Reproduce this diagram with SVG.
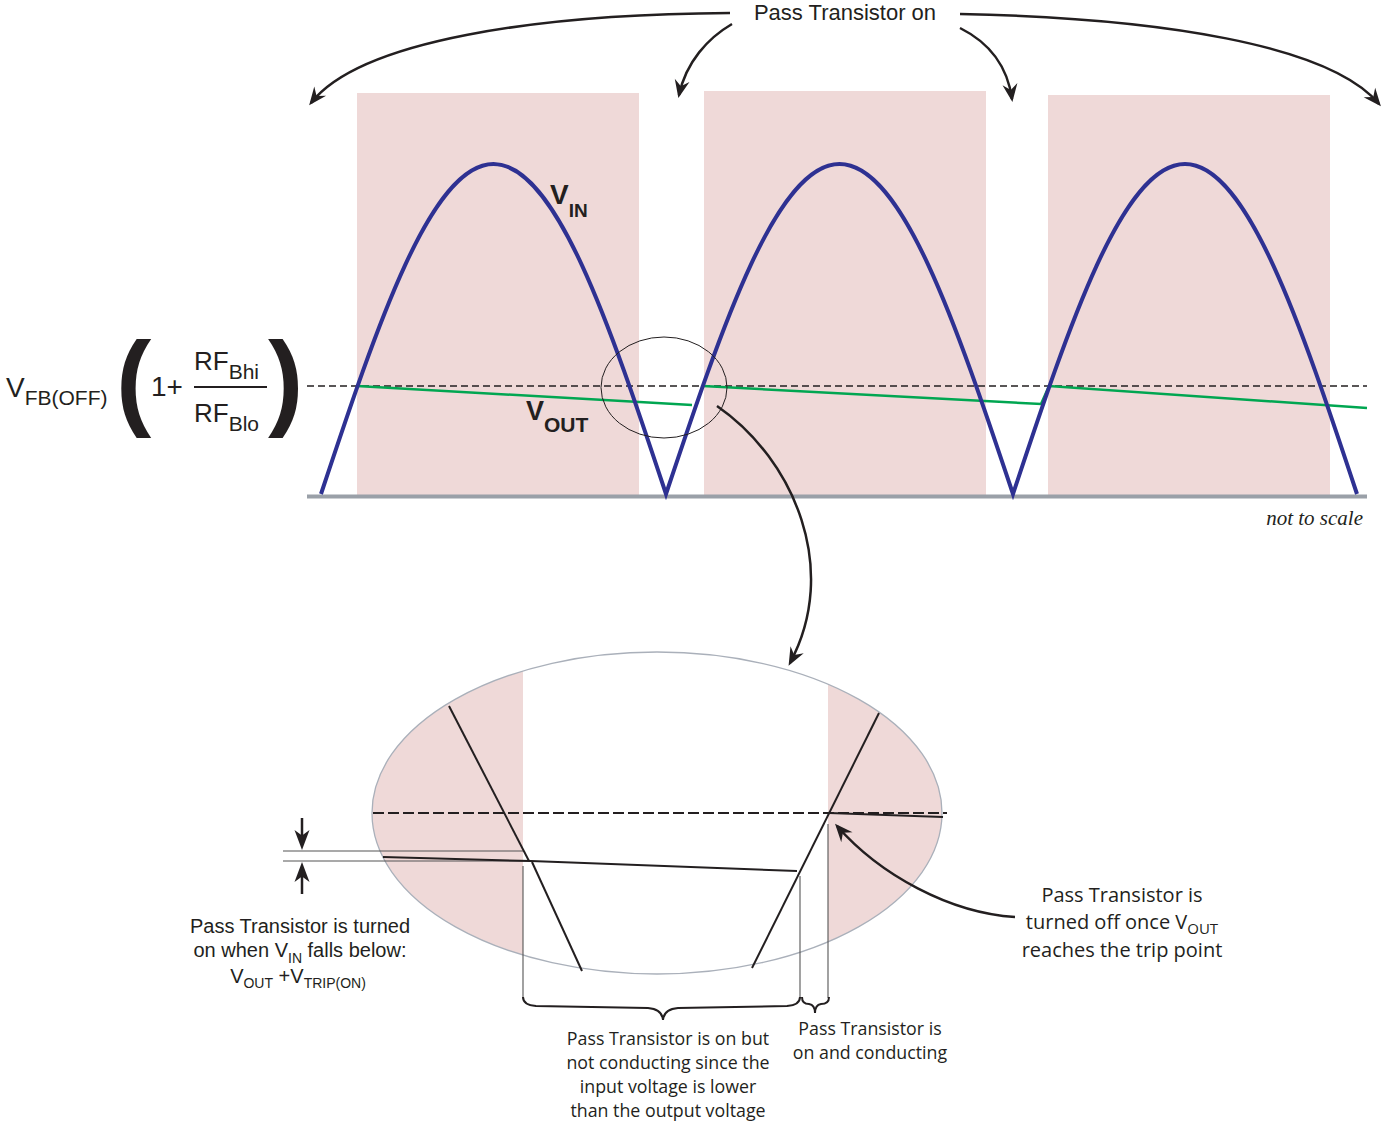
<svg xmlns="http://www.w3.org/2000/svg" width="1383" height="1124" viewBox="0 0 1383 1124">
<style>
.pink{fill:#efd9d8}
.blue{fill:none;stroke:#2e3192;stroke-width:4;stroke-linejoin:miter}
.green{fill:none;stroke:#00a651;stroke-width:2.5}
.dash{fill:none;stroke:#231f20;stroke-width:1.5;stroke-dasharray:7 4}
.arr{fill:none;stroke:#231f20;stroke-width:2.5;marker-end:url(#ah)}
.thin{fill:none;stroke:#555;stroke-width:1.1}
.blk{fill:none;stroke:#231f20;stroke-width:2}
.sans{font-family:"Liberation Sans",Arial,sans-serif;fill:#231f20}
.myr{font-family:"Open Sans","Noto Sans",sans-serif;fill:#231f20}
</style>
<defs>
<marker id="ah" viewBox="-16 -8 20 16" markerWidth="20" markerHeight="16" refX="0" refY="0" orient="auto" markerUnits="userSpaceOnUse">
<path d="M3,0 L-15,-7.5 L-9,0 L-15,7.5 Z" fill="#231f20"/>
</marker>
<clipPath id="ec"><ellipse cx="657" cy="813" rx="285" ry="161"/></clipPath>
</defs>

<g id="chart">
<rect class="pink" x="357" y="93" width="282" height="403"/>
<rect class="pink" x="704" y="91" width="282" height="405"/>
<rect class="pink" x="1048" y="95" width="282" height="401"/>
<line x1="307" y1="496.5" x2="1367" y2="496.5" stroke="#9aa0a8" stroke-width="4"/>
<line class="dash" x1="307" y1="386" x2="1367" y2="386"/>
<path class="green" d="M357,386 L692,405"/>
<path class="green" d="M703,386 L1041,404 L1049,386 L1367,408"/>
<path class="blue" d="M321,494 C377.2,324.9 431,164 493.5,164 C556,164 609.8,324.9 666,494 C722.6,324.9 776.7,164 839.5,164 C902.3,164 956.4,324.9 1013,494 C1069.2,324.9 1122.6,164 1185,164 C1247.4,164 1300.9,324.9 1357,494"/>
<ellipse cx="664" cy="387.5" rx="63" ry="50.5" fill="none" stroke="#231f20" stroke-width="1"/>
<text class="sans" x="550" y="204" font-size="28" font-weight="bold">V<tspan font-size="19" dy="13">IN</tspan></text>
<text class="sans" x="526" y="420" font-size="27" font-weight="bold">V<tspan font-size="21" dy="12">OUT</tspan></text>
<text x="1363" y="525" text-anchor="end" font-family="'Liberation Serif','Times New Roman',serif" font-style="italic" font-size="21" fill="#231f20">not to scale</text>
</g>

<g id="formula" class="sans">
<text x="6" y="397" font-size="28">V<tspan font-size="21" dy="8">FB(OFF)</tspan></text>
<text x="116" y="416" font-size="106" font-weight="bold">(</text>
<text x="151" y="396" font-size="28">1+</text>
<text x="194" y="370" font-size="26">RF<tspan font-size="21" dy="9">Bhi</tspan></text>
<line x1="194" y1="387" x2="267" y2="387" stroke="#231f20" stroke-width="2"/>
<text x="194" y="422" font-size="26">RF<tspan font-size="21" dy="9">Blo</tspan></text>
<text x="268" y="416" font-size="106" font-weight="bold">)</text>
</g>

<g id="top-label">
<text class="sans" x="845" y="20" font-size="22" text-anchor="middle">Pass Transistor on</text>
</g>

<g id="zoom-view">
<g clip-path="url(#ec)">
<rect class="pink" x="370" y="650" width="153" height="330"/>
<rect class="pink" x="828" y="650" width="120" height="330"/>
</g>
<ellipse cx="657" cy="813" rx="285" ry="161" fill="none" stroke="#aab0ba" stroke-width="1.3"/>
<line x1="373" y1="813" x2="947" y2="813" fill="none" stroke="#231f20" stroke-width="2" stroke-dasharray="11 4"/>
<line class="thin" x1="283" y1="851" x2="523" y2="851"/>
<line class="thin" x1="283" y1="861" x2="530" y2="861"/>
<path class="blk" d="M449,706 L529,861"/>
<path class="blk" d="M532,862 L582,971"/>
<path class="blk" d="M383,857 L531,861 L797,871"/>
<path class="blk" d="M752,968 L879,713"/>
<path class="blk" d="M829,813 L943,817"/>
<line class="thin" x1="523" y1="866" x2="523" y2="998"/>
<line class="thin" x1="800" y1="876" x2="800" y2="998"/>
<line class="thin" x1="828" y1="824" x2="828" y2="998"/>
<line x1="302" y1="818" x2="302" y2="838" stroke="#231f20" stroke-width="2.5"/>
<path d="M302,850 L294.5,830 L302,835.5 L309.5,830 Z" fill="#231f20"/>
<line x1="302" y1="874" x2="302" y2="894" stroke="#231f20" stroke-width="2.5"/>
<path d="M302,862 L294.5,882 L302,876.5 L309.5,882 Z" fill="#231f20"/>
<path class="blk" d="M523,997 Q523,1005 536,1006 L648,1008 Q662,1009 663,1020 Q664,1009 678,1008 L787,1006 Q800,1005 800,997"/>
<path class="blk" d="M802,997 Q802,1004 809,1004 Q815,1005 815,1013 Q815,1005 821,1004 Q829,1004 829,997"/>
</g>

<g id="note-left" class="sans" font-size="20" text-anchor="middle">
<text x="300" y="933">Pass Transistor is turned</text>
<text x="300" y="957">on when V<tspan font-size="14" dy="6">IN</tspan><tspan dy="-6"> falls below:</tspan></text>
<text x="298" y="983">V<tspan font-size="14" dy="5">OUT</tspan><tspan dy="-5"> +V</tspan><tspan font-size="14" dy="5">TRIP(ON)</tspan></text>
</g>

<g id="note-right" class="myr" font-size="20" text-anchor="middle">
<text x="1122" y="902">Pass Transistor is</text>
<text x="1122" y="929">turned off once V<tspan font-size="15" dy="5">OUT</tspan></text>
<text x="1122" y="957">reaches the trip point</text>
</g>

<g id="note-bottom" class="myr" font-size="17.8" text-anchor="middle">
<text x="668" y="1045">Pass Transistor is on but</text>
<text x="668" y="1069">not conducting since the</text>
<text x="668" y="1093">input voltage is lower</text>
<text x="668" y="1117">than the output voltage</text>
</g>

<g id="note-conducting" class="myr" font-size="17.8" text-anchor="middle">
<text x="870" y="1035">Pass Transistor is</text>
<text x="870" y="1059">on and conducting</text>
</g>

<g id="connectors">
<path class="arr" d="M730,13 C540,14 360,40 311,103"/>
<path class="arr" d="M732,24 C708,38 686,62 679,95"/>
<path class="arr" d="M960,14 C1160,18 1330,45 1379,104"/>
<path class="arr" d="M960,28 C992,44 1008,70 1012,99"/>
<path class="arr" stroke-width="2" d="M717,406 C795,460 840,570 790,663"/>
<path class="arr" stroke-width="2" d="M1015,917 C950,913 880,875 837,826"/>
</g>
</svg>
